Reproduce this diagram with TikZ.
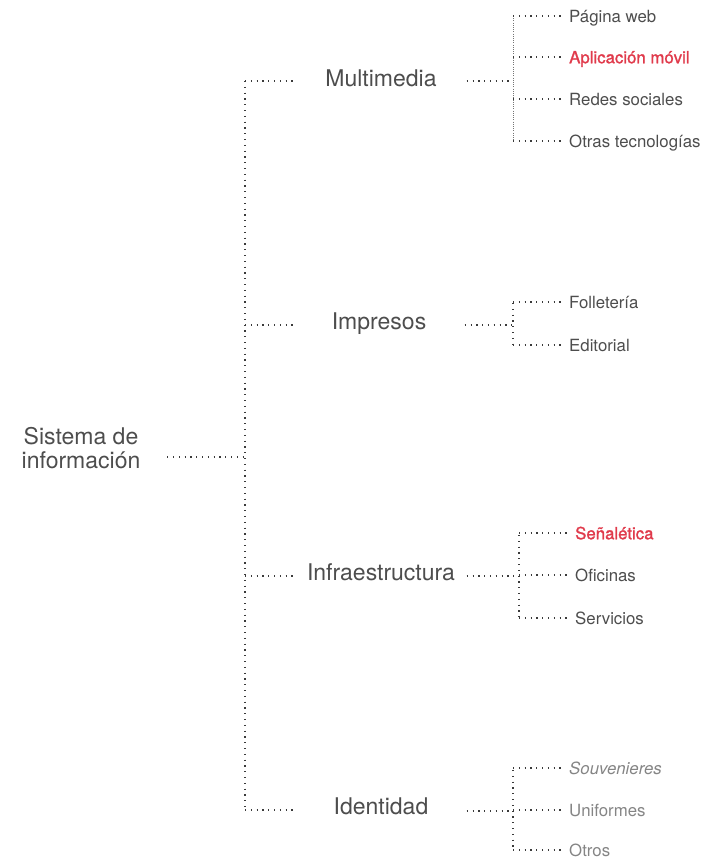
\documentclass[tikz,border=0pt]{standalone}
\usepackage{fontspec}
\setmainfont{TeX Gyre Heros}
\newfontfamily\medfont[FakeBold=1.3]{TeX Gyre Heros}
\usetikzlibrary{positioning}
\definecolor{textgray}{HTML}{4D4D4D}
\definecolor{signred}{HTML}{E03A4B}
\definecolor{softgray}{HTML}{858585}
\definecolor{dotgray}{HTML}{3A3A3A}
\tikzstyle{rootbox}=[align=center,text=textgray,font=\fontsize{23}{23.5}\selectfont,inner sep=0pt,minimum width=172pt]
\tikzstyle{branch}=[text=textgray,font=\fontsize{23}{25}\selectfont,inner sep=0pt,minimum width=171pt,text height=16.5pt,text depth=3pt]
\tikzstyle{leaf}=[anchor=west,text=textgray,font=\fontsize{16.8}{19}\selectfont,inner xsep=4pt,inner ysep=0pt,text height=12.5pt,text depth=0pt]
\tikzstyle{redleaf}=[leaf,text=signred,font=\medfont\fontsize{16.8}{19}\selectfont]
\tikzstyle{softleaf}=[leaf,text=softgray]
\tikzstyle{link}=[draw,dotgray,line width=1.2pt,dash pattern=on 1.2pt off 4.6pt]
\tikzstyle{finelink}=[draw,dotgray!70,line width=0.6pt,dash pattern=on 0.6pt off 1.6pt]

\begin{document}
\begin{tikzpicture}[x=1pt,y=-1pt]
    \useasboundingbox (0,0) rectangle (719,859);
    % root and main branches
    \node[rootbox] (root) at (81,448) {Sistema de\\información};
    \foreach \pos/\name/\label in {{(381,80)/multi/Multimedia}, {(379,323)/impr/Impresos}, {(381,574)/infra/Infraestructura}, {(381,808)/ident/Identidad}}
        \node[branch] (\name) at \pos {\label};

    % junctions on the dotted trunks
    \foreach \pos/\name in {{(245,457)/rj}, {(245,81)/j1}, {(245,325)/j2}, {(245,576)/j3}, {(245,810)/j4}, {(513,81)/mj}, {(513,16)/mtop}, {(513,141)/mbot}, {(513,325)/pj}, {(513,303)/ptop}, {(513,346)/pbot}, {(519,576)/ij}, {(519,535)/itop}, {(519,620)/ibot}, {(513,811)/dj}, {(513,770)/dtop}, {(513,851)/dbot}}
        \path \pos coordinate (\name);

    % leaves
    \foreach \pos/\name/\label/\sty in {{(565,16)/web/Página web/leaf}, {(565,57)/app/Aplicación móvil/redleaf}, {(565,99)/redes/Redes sociales/leaf}, {(565,141)/otras/Otras tecnologías/leaf}, {(565,302)/foll/Folletería/leaf}, {(565,345)/edit/Editorial/leaf}, {(571,533)/senal/Señalética/redleaf}, {(571,575)/ofic/Oficinas/leaf}, {(571,618)/serv/Servicios/leaf}, {(565,768)/souv/\textit{Souvenieres}/softleaf}, {(565,810)/unif/Uniformes/softleaf}, {(565,850)/otros/Otros/softleaf}}
        \node[\sty] (\name) at \pos {\label};

    % trunk
    \path[link] ([yshift=-9pt]root.east) -- (rj);
    \path[link] (j1) -- (j4);
    \foreach \dest/\from in {multi/j1, impr/j2, infra/j3, ident/j4}
        \path[link] (\from) -- (\from -| \dest.west);

    % branch to leaves
    \path[finelink] (mtop) -- (mbot);
    \foreach \source/\jn in {multi/mj, impr/pj, infra/ij, ident/dj}
        \path[link] (\jn -| \source.east) -- (\jn);
    \foreach \top/\bot in {ptop/pbot, itop/ibot, dtop/dbot}
        \path[link] (\top) -- (\bot);
    \foreach \jn/\dest in {mj/web, mj/app, mj/redes, mj/otras, pj/foll, pj/edit, ij/senal, ij/ofic, ij/serv, dj/souv, dj/unif, dj/otros}
        \path[link] (\jn |- \dest.west) -- (\dest.west);
\end{tikzpicture}
\end{document}
